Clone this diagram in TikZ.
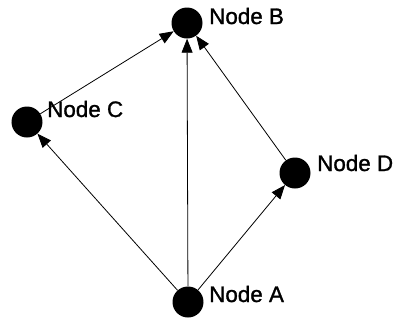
\documentclass[tikz,border=0pt]{standalone}
\usepackage{fontspec}
\setmainfont{Liberation Sans}
\newfontfamily\labelfont[FakeBold=1.2]{Liberation Sans}
\usetikzlibrary{arrows.meta}
\tikzset{
  dot/.style={circle,fill=black,inner sep=0pt,minimum size=31bp},
  lbl/.style={anchor=west,inner sep=0pt,font=\labelfont\fontsize{22.5}{24}\selectfont},
  link/.style={draw=black,line width=0.8bp,-{Triangle[length=14bp,width=11bp]}}
}
\begin{document}
\begin{tikzpicture}[x=1bp,y=-1bp]
  \useasboundingbox (0,0) rectangle (397,322);
  % vertices
  \node[dot] (A) at (188,302) {};
  \node[dot] (B) at (187,23) {};
  \node[dot] (C) at (27,122) {};
  \node[dot] (D) at (295,173) {};
  % labels
  \node[lbl] (la) at (209,294) {Node A};
  \node[lbl] (lb) at (209,16) {Node B};
  \node[lbl] (lc) at (47,109) {Node C};
  \node[lbl] (ld) at (317,163) {Node D};
  % edges
  \draw[link] (A) -- (C);
  \draw[link] (A) -- (B);
  \draw[link] (A) -- (D);
  \draw[link] (C) -- (B);
  \draw[link] (D) -- (B);
\end{tikzpicture}
\end{document}
